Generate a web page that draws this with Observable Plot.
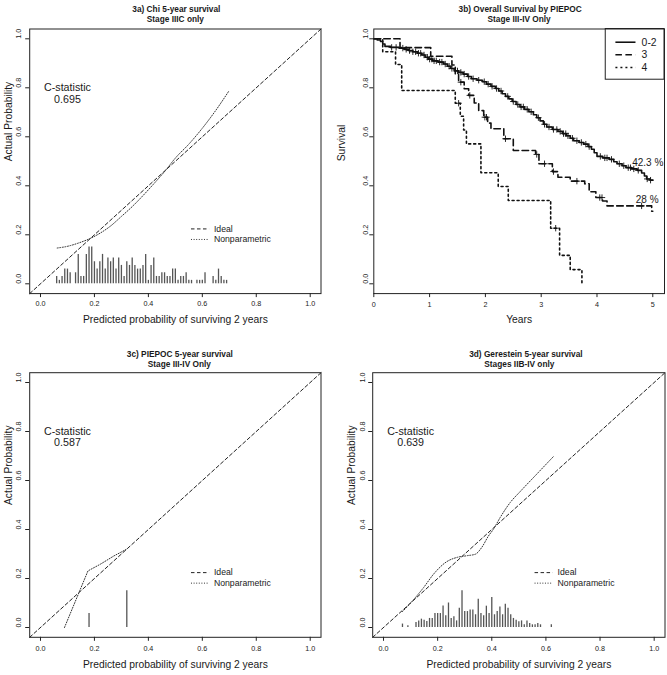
<!DOCTYPE html>
<html>
<head>
<meta charset="utf-8">
<script src="https://cdn.jsdelivr.net/npm/d3@7"></script>
<script src="https://cdn.jsdelivr.net/npm/@observablehq/plot@0.6"></script>
<style>
  body { margin: 0; background: #fff; }
  #chart { position: relative; width: 667px; height: 675px; background: #fff; overflow: hidden; }
  #chart svg { position: absolute; }
</style>
</head>
<body>
<div id="chart"></div>
<script>
// ---------------- DATA ----------------
const probTicks = [0, 0.2, 0.4, 0.6, 0.8, 1.0];
const yearTicks = [0, 1, 2, 3, 4, 5];
const legendLabels = ["Ideal", "Nonparametric"];
const survGroups = ["0-2", "3", "4"];

// 3a) Chi – spike histogram of predicted probabilities
const chiBarX = [0.06,0.07,0.08,0.09,0.10,0.11,0.13,0.14,0.15,0.16,0.17,0.18,0.19,0.20,0.21,0.22,0.23,0.24,0.25,0.26,0.27,0.28,0.29,0.30,0.31,0.32,0.33,0.34,0.35,0.36,0.37,0.38,0.39,0.40,0.41,0.42,0.43,0.44,0.45,0.46,0.47,0.48,0.49,0.50,0.51,0.52,0.53,0.54,0.55,0.56,0.58,0.59,0.60,0.61,0.64,0.65,0.66,0.67,0.68,0.69];
const chiBarH = [0.03,0.014,0.03,0.06,0.06,0.045,0.045,0.12,0.03,0.03,0.12,0.15,0.15,0.09,0.06,0.09,0.12,0.06,0.105,0.09,0.105,0.06,0.105,0.075,0.03,0.09,0.075,0.105,0.075,0.06,0.06,0.075,0.12,0.014,0.075,0.105,0.03,0.03,0.045,0.045,0.03,0.03,0.06,0.06,0.014,0.03,0.03,0.045,0.014,0.014,0.014,0.014,0.014,0.045,0.03,0.014,0.06,0.03,0.014,0.014];
const chiNpX = [0.062,0.10,0.14,0.18,0.22,0.26,0.30,0.34,0.38,0.42,0.46,0.50,0.55,0.60,0.65,0.698];
const chiNpY = [0.146,0.153,0.166,0.183,0.206,0.236,0.275,0.315,0.36,0.408,0.458,0.513,0.57,0.635,0.708,0.786];
const chiC = "0.695";

// 3c) PIEPOC
const piepocBarX = [0.18, 0.32];
const piepocBarH = [0.057, 0.15];
const piepocNpX = [0.089, 0.176, 0.223, 0.272, 0.32];
const piepocNpY = [0.0, 0.231, 0.259, 0.292, 0.32];
const piepocC = "0.587";

// 3d) Gerestein
const gerBarX = [0.07,0.09,0.12,0.13,0.14,0.15,0.16,0.17,0.18,0.19,0.20,0.21,0.22,0.23,0.24,0.25,0.26,0.27,0.28,0.29,0.30,0.31,0.32,0.33,0.34,0.35,0.36,0.37,0.38,0.39,0.40,0.41,0.42,0.43,0.44,0.45,0.46,0.47,0.48,0.49,0.50,0.51,0.52,0.53,0.54,0.55,0.56,0.57,0.58,0.62];
const gerBarH = [0.014,0.007,0.02,0.027,0.034,0.03,0.024,0.037,0.037,0.057,0.057,0.057,0.088,0.048,0.10,0.037,0.044,0.027,0.079,0.15,0.065,0.065,0.071,0.071,0.052,0.115,0.057,0.048,0.087,0.057,0.122,0.052,0.065,0.084,0.052,0.095,0.079,0.052,0.037,0.03,0.023,0.027,0.011,0.027,0.016,0.011,0.011,0.016,0.011,0.011];
const gerNpX = [0.07,0.10,0.148,0.185,0.234,0.271,0.308,0.339,0.363,0.388,0.406,0.431,0.468,0.505,0.554,0.628];
const gerNpY = [0.065,0.10,0.163,0.218,0.269,0.286,0.293,0.299,0.327,0.374,0.401,0.449,0.51,0.555,0.612,0.698];
const gerC = "0.639";

// 3b) Kaplan–Meier curves by PIEPOC group
const km02T = [0,0.06,0.12,0.16,0.2,0.3,0.45,0.55,0.62,0.7,0.78,0.86,0.92,0.98,1.05,1.15,1.25,1.32,1.38,1.44,1.52,1.6,1.68,1.75,1.85,1.95,2.02,2.1,2.18,2.24,2.3,2.36,2.42,2.48,2.55,2.62,2.7,2.78,2.86,2.92,2.98,3.04,3.1,3.2,3.3,3.38,3.45,3.52,3.58,3.68,3.76,3.84,3.9,3.95,4.0,4.1,4.22,4.3,4.36,4.45,4.52,4.62,4.72,4.8,4.85,4.89,4.95,5.0];
const km02S = [1,0.995,0.989,0.979,0.969,0.965,0.962,0.957,0.952,0.947,0.941,0.934,0.925,0.917,0.91,0.905,0.897,0.888,0.879,0.869,0.863,0.856,0.846,0.837,0.831,0.825,0.815,0.806,0.797,0.787,0.776,0.765,0.755,0.744,0.732,0.722,0.712,0.702,0.69,0.678,0.665,0.651,0.64,0.63,0.622,0.613,0.604,0.594,0.584,0.577,0.57,0.56,0.549,0.535,0.52,0.514,0.508,0.498,0.49,0.482,0.474,0.469,0.463,0.452,0.44,0.428,0.423,0.423];
const km02Cens = [0.32,0.4,0.52,0.58,0.64,0.7,0.75,0.8,0.84,0.9,0.96,1.0,1.04,1.08,1.12,1.18,1.22,1.28,1.35,1.4,1.5,1.56,1.62,1.7,1.78,1.88,1.98,2.05,2.12,2.2,2.28,2.4,2.5,2.58,2.64,2.68,2.75,2.82,2.95,3.06,3.14,3.22,3.28,3.34,3.4,3.44,3.48,3.56,3.64,3.72,3.8,3.86,4.06,4.14,4.18,4.26,4.4,4.48,4.56,4.6,4.66,4.74,4.9,4.96];

const km3T = [0,0.47,1.02,1.40,1.46,1.52,1.62,1.70,1.80,1.88,1.97,2.04,2.10,2.33,2.50,2.90,2.96,3.20,3.30,3.52,3.78,3.86,3.98,4.10,4.18,4.98,5.0];
const km3S = [1,0.964,0.929,0.893,0.857,0.823,0.796,0.769,0.738,0.707,0.68,0.656,0.633,0.592,0.544,0.528,0.49,0.458,0.435,0.419,0.408,0.376,0.352,0.338,0.318,0.296,0.296];
const km3Cens = [1.56,1.72,1.99,2.02,2.36,2.92,3.06,3.22,3.64,4.05,4.09,4.80];

const km4T = [0,0.16,0.39,0.50,1.46,1.55,1.61,1.66,1.92,2.23,2.41,3.17,3.33,3.52,3.73];
const km4S = [1,0.947,0.895,0.789,0.737,0.684,0.628,0.571,0.453,0.397,0.34,0.227,0.116,0.058,0.0];
const km4Cens = [1.52, 3.26];

const endLabels = ["42.3 %", "28 %"];

// ---------------- LAYOUT ----------------
const FONT = '"Liberation Sans", Arial, Helvetica, sans-serif';
const calDomain = [-0.04, 1.04];
const fmt1 = d => d.toFixed(1);
const INK = "#1a1a1a";
const DOT = "1,1.6";

function stepAt(T, S, t) {
  let v = S[0];
  for (let i = 0; i < T.length; i++) if (T[i] <= t) v = S[i];
  return v;
}

function commonText(o) {
  return Object.assign({fill: INK, fontFamily: FONT}, o);
}

function calibPanel(p) {
  const bars = p.barX.map((x, i) => ({x, h: p.barH[i]}));
  const np = p.npX.map((x, i) => ({x, y: p.npY[i]}));
  const ideal = [{x: calDomain[0], y: calDomain[0]}, {x: calDomain[1], y: calDomain[1]}];
  const leg = [
    {label: legendLabels[0], y: 0.224},
    {label: legendLabels[1], y: 0.181}
  ];
  const svg = Plot.plot({
    width: p.width, height: p.height,
    marginLeft: p.ml, marginRight: p.mr, marginTop: p.mt, marginBottom: p.mb,
    x: {domain: calDomain},
    y: {domain: calDomain},
    style: {fontFamily: FONT, background: "white", color: INK, overflow: "visible"},
    marks: [
      Plot.ruleX(bars, {x: "x", y1: 0, y2: "h", stroke: "#555", strokeWidth: 1.3}),
      Plot.line(ideal, {x: "x", y: "y", stroke: "#222", strokeWidth: 1, strokeDasharray: "3.5,2.5"}),
      Plot.line(np, {x: "x", y: "y", stroke: "#333", strokeWidth: 1, strokeDasharray: DOT, curve: p.curve}),
      Plot.link([leg[0]], {x1: 0.558, x2: 0.625, y1: "y", y2: "y", stroke: "#222", strokeWidth: 1, strokeDasharray: "3.5,2.5"}),
      Plot.link([leg[1]], {x1: 0.558, x2: 0.625, y1: "y", y2: "y", stroke: "#333", strokeWidth: 1, strokeDasharray: DOT}),
      Plot.text(leg, commonText({x: 0.643, y: "y", text: "label", textAnchor: "start", fontSize: 8.7})),
      Plot.text(["C-statistic"], commonText({x: 0.1, y: 0.8, text: d => d, fontSize: 10.7})),
      Plot.text([p.cstat], commonText({x: 0.1, y: 0.8, dy: 11.5, text: d => d, fontSize: 10.7})),
      Plot.frame({stroke: "#222", strokeWidth: 1}),
      Plot.axisX({ticks: probTicks, tickSize: 4, fill: "none", stroke: "#222", label: null}),
      Plot.axisY({ticks: probTicks, tickSize: 4, fill: "none", stroke: "#222", label: null}),
      Plot.text(probTicks, commonText({x: d => d, frameAnchor: "bottom", dy: p.xtickDy, text: fmt1, fontSize: 7.2})),
      Plot.text(probTicks, commonText({y: d => d, frameAnchor: "left", dx: p.ytickDx, rotate: -90, text: fmt1, fontSize: 7.2})),
      Plot.text(["Predicted probability of surviving 2 years"], commonText({frameAnchor: "bottom", dy: p.xtitleDy, text: d => d, fontSize: 10.3})),
      Plot.text(["Actual Probability"], commonText({frameAnchor: "left", dx: p.ytitleDx, rotate: -90, text: d => d, fontSize: 10.3})),
      Plot.text([p.title1], commonText({frameAnchor: "top", dy: p.t1dy, dx: p.t1dx, text: d => d, fontSize: 8.3, fontWeight: "bold"})),
      Plot.text([p.title2], commonText({frameAnchor: "top", dy: p.t2dy, dx: p.t2dx, text: d => d, fontSize: 8.3, fontWeight: "bold"}))
    ]
  });
  svg.style.left = p.left + "px";
  svg.style.top = p.top + "px";
  return svg;
}

function survPanel(p) {
  const toPts = (T, S) => T.map((t, i) => ({t, s: S[i]}));
  const c02 = km02Cens.map(t => ({t, s: stepAt(km02T, km02S, t)}));
  const c3 = km3Cens.map(t => ({t, s: stepAt(km3T, km3S, t)}));
  const c4 = km4Cens.map(t => ({t, s: stepAt(km4T, km4S, t)}));
  const xDom = [0, 5.21];
  const legRows = [
    {label: survGroups[0], y: 0.986},
    {label: survGroups[1], y: 0.935},
    {label: survGroups[2], y: 0.883}
  ];
  const styles = [
    {dash: null},
    {dash: "6.5,3.5"},
    {dash: "2,3"}
  ];
  const lineMark = (data, st) => Plot.line(data, Object.assign({x: "t", y: "s", curve: "step-after", stroke: "#111", strokeWidth: 1.6}, st.dash ? {strokeDasharray: st.dash} : {}));
  const legLine = (row, st) => Plot.link([row], Object.assign({x1: 4.33, x2: 4.69, y1: "y", y2: "y", stroke: "#111", strokeWidth: 1.6}, st.dash ? {strokeDasharray: st.dash} : {}));
  const svg = Plot.plot({
    width: p.width, height: p.height,
    marginLeft: p.ml, marginRight: p.mr, marginTop: p.mt, marginBottom: p.mb,
    x: {domain: xDom},
    y: {domain: calDomain},
    style: {fontFamily: FONT, background: "white", color: INK, overflow: "visible"},
    marks: [
      lineMark(toPts(km4T, km4S), styles[2]),
      lineMark(toPts(km3T, km3S), styles[1]),
      lineMark(toPts(km02T, km02S), styles[0]),
      Plot.dot(c02, {x: "t", y: "s", symbol: "plus", r: 2.2, stroke: "#111", strokeWidth: 0.9}),
      Plot.dot(c3, {x: "t", y: "s", symbol: "plus", r: 2.2, stroke: "#111", strokeWidth: 0.9}),
      Plot.dot(c4, {x: "t", y: "s", symbol: "plus", r: 2.2, stroke: "#111", strokeWidth: 0.9}),
      Plot.rect([{x1: 4.157, x2: xDom[1], y1: 0.833, y2: calDomain[1]}], {x1: "x1", x2: "x2", y1: "y1", y2: "y2", fill: "white", stroke: "#222", strokeWidth: 1}),
      legLine(legRows[0], styles[0]),
      legLine(legRows[1], styles[1]),
      legLine(legRows[2], styles[2]),
      Plot.text(legRows, commonText({x: 4.80, y: "y", text: "label", textAnchor: "start", fontSize: 10.4})),
      Plot.text([{t: 4.91, s: 0.492, label: endLabels[0]}, {t: 4.90, s: 0.343, label: endLabels[1]}], commonText({x: "t", y: "s", text: "label", fontSize: 10})),
      Plot.frame({stroke: "#222", strokeWidth: 1}),
      Plot.axisX({ticks: yearTicks, tickSize: 4, fill: "none", stroke: "#222", label: null}),
      Plot.axisY({ticks: probTicks, tickSize: 4, fill: "none", stroke: "#222", label: null}),
      Plot.text(yearTicks, commonText({x: d => d, frameAnchor: "bottom", dy: p.xtickDy, text: d => String(d), fontSize: 7.2})),
      Plot.text(probTicks, commonText({y: d => d, frameAnchor: "left", dx: p.ytickDx, rotate: -90, text: fmt1, fontSize: 7.2})),
      Plot.text(["Years"], commonText({frameAnchor: "bottom", dy: p.xtitleDy, text: d => d, fontSize: 10.3})),
      Plot.text(["Survival"], commonText({frameAnchor: "left", dx: p.ytitleDx, rotate: -90, text: d => d, fontSize: 10.3})),
      Plot.text([p.title1], commonText({frameAnchor: "top", dy: p.t1dy, dx: p.t1dx, text: d => d, fontSize: 8.3, fontWeight: "bold"})),
      Plot.text([p.title2], commonText({frameAnchor: "top", dy: p.t2dy, dx: p.t2dx, text: d => d, fontSize: 8.3, fontWeight: "bold"}))
    ]
  });
  svg.style.left = p.left + "px";
  svg.style.top = p.top + "px";
  return svg;
}

const chart = document.getElementById("chart");

chart.appendChild(calibPanel({
  left: 0, top: 0, width: 333, height: 337,
  ml: 29.2, mr: 12.5, mt: 28.5, mb: 43.9,
  barX: chiBarX, barH: chiBarH, npX: chiNpX, npY: chiNpY, curve: "monotone-x", cstat: chiC,
  title1: "3a) Chi 5-year survival", title2: "Stage IIIC only",
  t1dy: -22.5, t2dy: -12.5, t1dx: 1, t2dx: 0,
  xtickDy: 12.5, ytickDx: -10.9, xtitleDy: 29.6, ytitleDx: -21
}));

chart.appendChild(survPanel({
  left: 333, top: 0, width: 334, height: 337,
  ml: 40.3, mr: 3, mt: 28.5, mb: 43.9,
  title1: "3b) Overall Survival by PIEPOC", title2: "Stage III-IV Only",
  t1dy: -22.5, t2dy: -12.5, t1dx: 1, t2dx: 0,
  xtickDy: 13.3, ytickDx: -8.5, xtitleDy: 29.6, ytitleDx: -32
}));

chart.appendChild(calibPanel({
  left: 0, top: 337, width: 333, height: 338,
  ml: 29.2, mr: 12.5, mt: 35.2, mb: 38.2,
  barX: piepocBarX, barH: piepocBarH, npX: piepocNpX, npY: piepocNpY, curve: "linear", cstat: piepocC,
  title1: "3c) PIEPOC 5-year survival", title2: "Stage III-IV Only",
  t1dy: -21.9, t2dy: -11.2, t1dx: 4.5, t2dx: 4,
  xtickDy: 13.5, ytickDx: -10.9, xtitleDy: 30.2, ytitleDx: -21
}));

chart.appendChild(calibPanel({
  left: 333, top: 337, width: 334, height: 338,
  ml: 39.2, mr: 2.5, mt: 35.2, mb: 38.2,
  barX: gerBarX, barH: gerBarH, npX: gerNpX, npY: gerNpY, curve: "monotone-x", cstat: gerC,
  title1: "3d) Gerestein 5-year survival", title2: "Stages IIB-IV only",
  t1dy: -21.9, t2dy: -11.2, t1dx: 7, t2dx: 0.5,
  xtickDy: 13.5, ytickDx: -9.9, xtitleDy: 30.2, ytitleDx: -21
}));
</script>
</body>
</html>
